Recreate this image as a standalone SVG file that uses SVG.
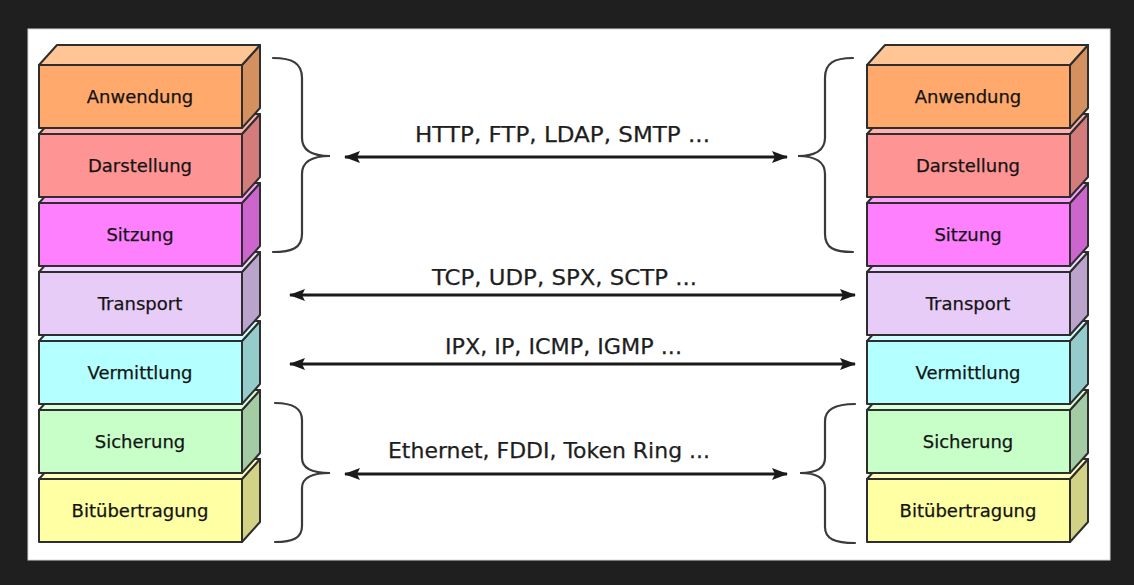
<svg xmlns="http://www.w3.org/2000/svg" width="1134" height="585" viewBox="0 0 1134 585">
<defs>
<style>
.face{stroke:#2e2e2e;stroke-width:2;stroke-linejoin:round}
.lbl{font-family:"DejaVu Sans",sans-serif;font-size:18px;fill:#141414;text-anchor:middle;stroke:#141414;stroke-width:0.25}
.proto{font-family:"DejaVu Sans",sans-serif;font-size:22px;fill:#1e1e1e;stroke:#1e1e1e;stroke-width:0.25}
.brace{fill:none;stroke:#3a3a3a;stroke-width:2.2;stroke-linecap:round}
.arrow{stroke:#1a1a1a;stroke-width:3;fill:none;marker-start:url(#ah);marker-end:url(#ah)}
</style>
<marker id="ah" viewBox="0 0 16 12" refX="15" refY="6" markerWidth="16" markerHeight="12" markerUnits="userSpaceOnUse" orient="auto-start-reverse">
<path d="M0,0 L16,6 L0,12 L3,6 z" fill="#1a1a1a"/>
</marker>
</defs>
<rect x="0" y="0" width="1134" height="585" fill="#1f1f1f"/>
<rect x="28" y="29" width="1082" height="531" fill="#ffffff" stroke="#d8d8d8" stroke-width="1"/>

<g id="left-stack">
<g id="l-bit" transform="translate(39,479)">
<polygon class="face" fill="#d2d286" points="203,0 221,-20 221,43 203,63"/>
<polygon class="face" fill="#ffffc0" points="0,0 18,-20 221,-20 203,0"/>
<rect class="face" fill="#ffffa4" x="0" y="0" width="203" height="63"/>
<text class="lbl" x="101" y="38">Bitübertragung</text>
</g>
<g id="l-sich" transform="translate(39,410)">
<polygon class="face" fill="#a4cca4" points="203,0 221,-20 221,43 203,63"/>
<polygon class="face" fill="#dcffdc" points="0,0 18,-20 221,-20 203,0"/>
<rect class="face" fill="#c8ffc8" x="0" y="0" width="203" height="63"/>
<text class="lbl" x="101" y="38">Sicherung</text>
</g>
<g id="l-verm" transform="translate(39,341)">
<polygon class="face" fill="#94cccc" points="203,0 221,-20 221,43 203,63"/>
<polygon class="face" fill="#d0ffff" points="0,0 18,-20 221,-20 203,0"/>
<rect class="face" fill="#b4ffff" x="0" y="0" width="203" height="63"/>
<text class="lbl" x="101" y="38">Vermittlung</text>
</g>
<g id="l-trans" transform="translate(39,272)">
<polygon class="face" fill="#baa4cc" points="203,0 221,-20 221,43 203,63"/>
<polygon class="face" fill="#f0dcff" points="0,0 18,-20 221,-20 203,0"/>
<rect class="face" fill="#e8ccf8" x="0" y="0" width="203" height="63"/>
<text class="lbl" x="101" y="38">Transport</text>
</g>
<g id="l-sitz" transform="translate(39,203)">
<polygon class="face" fill="#cc66cc" points="203,0 221,-20 221,43 203,63"/>
<polygon class="face" fill="#ffa0ff" points="0,0 18,-20 221,-20 203,0"/>
<rect class="face" fill="#ff80ff" x="0" y="0" width="203" height="63"/>
<text class="lbl" x="101" y="38">Sitzung</text>
</g>
<g id="l-dars" transform="translate(39,134)">
<polygon class="face" fill="#d47c7c" points="203,0 221,-20 221,43 203,63"/>
<polygon class="face" fill="#ffb0b0" points="0,0 18,-20 221,-20 203,0"/>
<rect class="face" fill="#ff9494" x="0" y="0" width="203" height="63"/>
<text class="lbl" x="101" y="38">Darstellung</text>
</g>
<g id="l-anw" transform="translate(39,65)">
<polygon class="face" fill="#d4905e" points="203,0 221,-20 221,43 203,63"/>
<polygon class="face" fill="#ffc595" points="0,0 18,-20 221,-20 203,0"/>
<rect class="face" fill="#ffaa6c" x="0" y="0" width="203" height="63"/>
<text class="lbl" x="101" y="38">Anwendung</text>
</g>
</g>

<g id="right-stack">
<g id="r-bit" transform="translate(867,479)">
<polygon class="face" fill="#d2d286" points="203,0 221,-20 221,43 203,63"/>
<polygon class="face" fill="#ffffc0" points="0,0 18,-20 221,-20 203,0"/>
<rect class="face" fill="#ffffa4" x="0" y="0" width="203" height="63"/>
<text class="lbl" x="101" y="38">Bitübertragung</text>
</g>
<g id="r-sich" transform="translate(867,410)">
<polygon class="face" fill="#a4cca4" points="203,0 221,-20 221,43 203,63"/>
<polygon class="face" fill="#dcffdc" points="0,0 18,-20 221,-20 203,0"/>
<rect class="face" fill="#c8ffc8" x="0" y="0" width="203" height="63"/>
<text class="lbl" x="101" y="38">Sicherung</text>
</g>
<g id="r-verm" transform="translate(867,341)">
<polygon class="face" fill="#94cccc" points="203,0 221,-20 221,43 203,63"/>
<polygon class="face" fill="#d0ffff" points="0,0 18,-20 221,-20 203,0"/>
<rect class="face" fill="#b4ffff" x="0" y="0" width="203" height="63"/>
<text class="lbl" x="101" y="38">Vermittlung</text>
</g>
<g id="r-trans" transform="translate(867,272)">
<polygon class="face" fill="#baa4cc" points="203,0 221,-20 221,43 203,63"/>
<polygon class="face" fill="#f0dcff" points="0,0 18,-20 221,-20 203,0"/>
<rect class="face" fill="#e8ccf8" x="0" y="0" width="203" height="63"/>
<text class="lbl" x="101" y="38">Transport</text>
</g>
<g id="r-sitz" transform="translate(867,203)">
<polygon class="face" fill="#cc66cc" points="203,0 221,-20 221,43 203,63"/>
<polygon class="face" fill="#ffa0ff" points="0,0 18,-20 221,-20 203,0"/>
<rect class="face" fill="#ff80ff" x="0" y="0" width="203" height="63"/>
<text class="lbl" x="101" y="38">Sitzung</text>
</g>
<g id="r-dars" transform="translate(867,134)">
<polygon class="face" fill="#d47c7c" points="203,0 221,-20 221,43 203,63"/>
<polygon class="face" fill="#ffb0b0" points="0,0 18,-20 221,-20 203,0"/>
<rect class="face" fill="#ff9494" x="0" y="0" width="203" height="63"/>
<text class="lbl" x="101" y="38">Darstellung</text>
</g>
<g id="r-anw" transform="translate(867,65)">
<polygon class="face" fill="#d4905e" points="203,0 221,-20 221,43 203,63"/>
<polygon class="face" fill="#ffc595" points="0,0 18,-20 221,-20 203,0"/>
<rect class="face" fill="#ffaa6c" x="0" y="0" width="203" height="63"/>
<text class="lbl" x="101" y="38">Anwendung</text>
</g>
</g>

<g id="braces">
<path class="brace" d="M273,58 C292,58 302,63 302,78 L302,138 C302,150 312,156 330,156 C312,156 302,162 302,174 L302,234 C302,248 292,252 273,252"/>
<path class="brace" d="M853,58 C834,58 825,63 825,78 L825,138 C825,150 815,156 798,156 C815,156 825,162 825,174 L825,234 C825,248 834,252 853,252"/>
<path class="brace" d="M275,403 C293,403 302,408 302,420 L302,458 C302,468 312,473 330,473 C312,473 302,478 302,488 L302,526 C302,538 293,542 275,542"/>
<path class="brace" d="M855,404 C835,404 825,409 825,421 L825,458 C825,468 816,473 800,473 C816,473 825,478 825,488 L825,527 C825,539 835,543 855,543"/>
</g>

<g id="connectors">
<line class="arrow" x1="345" y1="157" x2="787" y2="157"/>
<line class="arrow" x1="290" y1="295" x2="855" y2="295"/>
<line class="arrow" x1="290" y1="364" x2="855" y2="364"/>
<line class="arrow" x1="345" y1="474" x2="787" y2="474"/>
</g>

<g id="protocol-labels">
<text class="proto" x="415" y="142" textLength="295" lengthAdjust="spacingAndGlyphs">HTTP, FTP, LDAP, SMTP ...</text>
<text class="proto" x="432" y="285" textLength="265" lengthAdjust="spacingAndGlyphs">TCP, UDP, SPX, SCTP ...</text>
<text class="proto" x="445" y="354" textLength="237" lengthAdjust="spacingAndGlyphs">IPX, IP, ICMP, IGMP ...</text>
<text class="proto" x="388" y="458" textLength="322" lengthAdjust="spacingAndGlyphs">Ethernet, FDDI, Token Ring ...</text>
</g>
</svg>
